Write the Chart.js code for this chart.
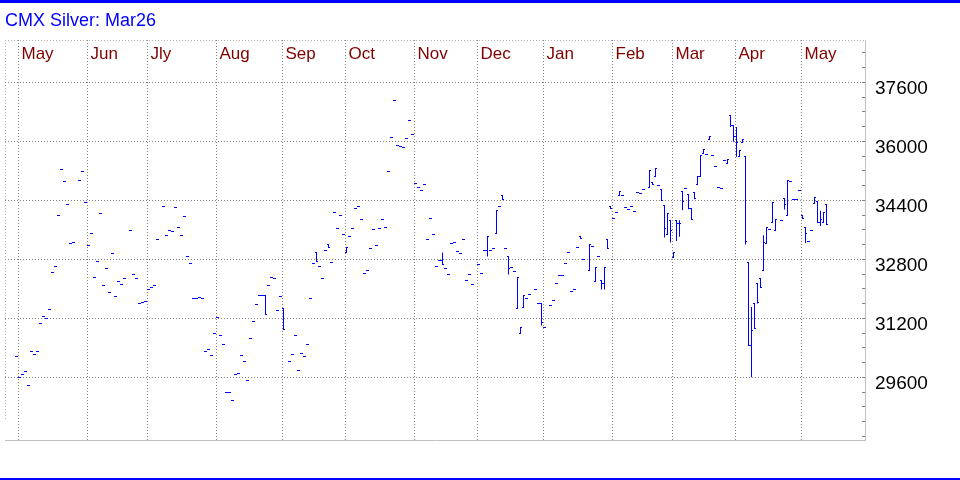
<!DOCTYPE html>
<html>
<head>
<meta charset="utf-8">
<script src="https://cdn.jsdelivr.net/npm/chart.js@4"></script>
<style>
html,body{margin:0;padding:0;background:#fff;overflow:hidden}
canvas{display:block}
</style>
</head>
<body>
<canvas id="c" width="960" height="480"></canvas>
<script>
// ---- data -------------------------------------------------------------
const chartTitle = 'CMX Silver: Mar26';
const monthLabels = ['May','Jun','Jly','Aug','Sep','Oct','Nov','Dec','Jan','Feb','Mar','Apr','May'];
// weekday index (0 = 1 May 2024) of the first weekday of each month
const monthStart = [0,23,43,66,88,109,132,153,175,198,218,239,261];
// labelled price levels on the right axis
const yTickLabels = [29600, 31200, 32800, 34400, 36000, 37600];
const yMinorStep = 400;    // small tick marks between the labels

// weekday index of each bar
const tradingDay = [
 -1,0,1,2,3,4,5,6,7,8,9,10,
 11,12,13,14,15,16,17,18,20,21,22,23,
 24,25,26,27,28,29,30,31,32,33,34,35,
 37,38,39,40,41,42,43,44,45,46,48,49,
 50,51,52,53,54,55,56,57,58,59,60,61,
 62,63,64,65,66,67,68,69,70,71,72,73,
 74,75,76,77,78,79,80,81,82,83,84,85,
 86,87,88,90,91,92,93,94,95,96,97,98,
 99,100,101,102,103,104,105,106,107,108,109,110,
 111,112,113,114,115,116,117,118,119,120,121,122,
 123,124,125,126,127,128,129,130,131,132,133,134,
 135,136,137,138,139,140,141,142,143,144,145,146,
 147,148,149,150,151,153,154,155,156,157,158,159,
 160,161,162,163,164,165,166,167,168,169,170,172,
 173,174,175,177,178,179,180,181,182,183,184,185,
 186,187,188,190,191,192,193,194,195,196,197,198,
 199,200,201,202,203,204,205,206,207,208,210,211,
 212,213,214,215,216,217,218,219,220,221,222,223,
 224,225,226,227,228,229,230,231,232,233,234,235,
 236,237,238,239,240,241,242,243,244,245,246,247,
 248,249,250,251,252,254,255,256,257,258,259,260,
 261,262,263,264,265,266,267,268,269
];

const openPrice = [
 30170,29600,29680,29765,29385,30305,30225,30305,31065,31255,31200,31445,
 32450,32610,33995,35240,34915,34290,33235,33260,34945,35185,34345,33180,
 33505,32310,32745,34050,32095,32555,31905,32965,31795,32205,32120,32285,
 33585,32395,32285,31605,31635,31660,31985,32040,32095,33345,34235,33450,
 33585,33560,34210,33675,33450,33965,32890,32690,31740,31740,31770,31740,
 30305,30360,30195,30795,31225,30740,30495,29195,29195,28975,29680,29710,
 30195,30035,29520,30660,31120,31580,31825,31825,31825,32095,32310,32285,
 31415,31795,31470,30035,30225,30740,29790,30250,30170,30495,31740,32690,
 32990,32610,32285,33045,33205,32720,34075,33640,33995,33480,32980,33425,
 33640,34185,34240,33885,32420,32500,33100,33615,33180,33640,33885,33670,
 35185,36110,37110,35890,35865,35840,36080,36570,36190,34860,34755,34670,
 34835,33345,33910,33480,32610,32775,32775,32555,32400,33235,33260,33015,
 32965,33345,32230,32400,32120,32665,32420,33035,33035,33045,33100,33495,
 34240,34535,33100,32890,32585,32485,31460,30795,31500,31735,31850,31985,
 31605,31605,30955,31550,31690,32150,32365,32365,32690,32990,31930,31985,
 33135,33425,32800,32495,33160,32195,32890,32240,32150,33345,34245,33910,
 34075,34535,34535,34210,34155,34240,34100,34615,34590,34700,34745,34895,
 35055,34820,34705,34265,33480,33865,32845,33865,33775,34635,34725,34565,
 34185,34615,34835,35040,35675,35655,36055,35610,35330,34750,34725,35480,
 35405,36710,36440,36145,35585,35975,35585,32725,30465,31610,32160,32285,
 32510,33235,33600,33795,33575,33870,34445,33980,34920,34435,34435,34680,
 33990,33665,33290,33585,34320,34380,33795,33795,34300
];

const highPrice = [
 30170,29600,29680,29765,29385,30305,30225,30305,31065,31255,31200,31445,
 32450,32610,33995,35240,34915,34290,33235,33260,34945,35185,34345,33180,
 33505,32310,32745,34050,32095,32555,31905,32965,31795,32205,32120,32285,
 33585,32395,32285,31605,31635,31660,31985,32040,32095,33345,34235,33450,
 33585,33560,34210,33675,33450,33965,32890,32690,31740,31740,31770,31740,
 30305,30360,30195,30795,31225,30740,30495,29195,29195,28975,29680,29710,
 30195,30035,29520,30660,31120,31580,31825,31825,31825,32095,32310,32285,
 31415,31795,31470,30035,30225,30740,29790,30250,30170,30495,31740,32690,
 32990,32610,32285,33045,33205,32720,34075,33640,33995,33480,33125,33425,
 33640,34185,34240,33885,32420,32500,33100,33615,33180,33640,33885,33670,
 35185,36110,37110,35890,35865,35840,36080,36570,36190,34860,34755,34670,
 34835,33345,33910,33480,32610,32775,32990,32555,32400,33235,33260,33015,
 32965,33345,32230,32400,32120,32665,32420,33035,33435,33045,33100,34140,
 34240,34535,33100,32890,32585,32485,32310,30955,31835,31735,31850,31985,
 31605,31605,30955,31550,31690,32150,32365,32365,32690,32990,31930,31985,
 33135,33425,32800,33205,33160,32585,32890,32240,32585,33345,34245,33910,
 34075,34635,34535,34210,34155,34240,34100,34615,34590,34700,35220,34895,
 35275,34820,34705,34265,34045,33865,32980,33865,33865,34635,34725,34565,
 34185,34615,35040,35620,35780,35655,36145,35610,35330,34750,34725,35480,
 35510,36710,36440,36395,35765,36065,35585,32725,31515,31610,32160,32285,
 33460,33665,33600,34345,33885,33870,34445,34940,34920,34435,34435,34680,
 33990,33665,33290,33585,34480,34380,34120,34065,34300
];

const lowPrice = [
 30170,29600,29680,29765,29385,30305,30225,30305,31065,31255,31200,31445,
 32450,32610,33995,35240,34915,34290,33235,33260,34945,35185,34345,33180,
 33505,32310,32745,34050,32095,32555,31905,32965,31795,32205,32120,32285,
 33585,32395,32285,31605,31635,31660,31985,32040,32095,33345,34235,33450,
 33585,33560,34210,33675,33450,33965,32890,32690,31740,31740,31770,31740,
 30305,30360,30195,30795,31225,30740,30495,29195,29195,28975,29680,29710,
 30195,30035,29520,30660,31120,31580,31825,31825,31310,32095,32310,32285,
 31415,31795,30900,30035,30225,30740,29790,30250,30170,30495,31740,32690,
 32745,32610,32285,33045,33125,32720,34075,33640,33995,33480,32980,33425,
 33640,34185,34240,33885,32420,32500,33100,33615,33180,33640,33885,33670,
 35185,36110,37110,35890,35865,35840,36080,36570,36190,34860,34755,34670,
 34835,33345,33910,33480,32610,32775,32665,32555,32400,33235,33260,33015,
 32965,33345,32230,32400,32120,32665,32420,33035,32880,33045,33100,33495,
 34240,34430,33100,32395,32585,32485,31460,30795,31500,31735,31850,31985,
 31605,31010,30955,31550,31690,32150,32365,32365,32690,32990,31930,31985,
 33135,33370,32800,32495,33160,32195,32890,31985,31985,33100,34185,33910,
 34075,34535,34535,34210,34155,34240,34100,34615,34590,34700,34745,34835,
 35055,34820,34400,33395,33480,33260,32845,33305,33415,34135,34725,34165,
 33885,34435,34835,35040,35675,35655,36055,35610,35330,34750,34725,35480,
 35405,36395,35990,35585,35585,35975,33205,30465,29605,30930,31605,32040,
 32510,33235,33600,33795,33575,33870,34155,33980,34920,34435,34435,34680,
 33920,33250,33290,33585,34320,33795,33710,33795,33750
];

const closePrice = [
 30170,29600,29680,29765,29385,30305,30225,30305,31065,31255,31200,31445,
 32450,32610,33995,35240,34915,34290,33235,33260,34945,35185,34345,33180,
 33505,32310,32745,34050,32095,32555,31905,32965,31795,32205,32120,32285,
 33585,32395,32285,31605,31635,31660,31985,32040,32095,33345,34235,33450,
 33585,33560,34210,33675,33450,33965,32890,32690,31740,31740,31770,31740,
 30305,30360,30195,30795,31225,30740,30495,29195,29195,28975,29680,29710,
 30195,30035,29520,30660,31120,31580,31825,31825,31310,32095,32310,32285,
 31415,31795,30900,30035,30225,30740,29790,30250,30170,30495,31740,32690,
 32745,32610,32285,33045,33125,32720,34075,33640,33995,33480,33125,33425,
 33640,34185,34240,33885,32420,32500,33100,33615,33180,33640,33885,33670,
 35185,36110,37110,35890,35865,35840,36080,36570,36190,34860,34755,34670,
 34835,33345,33910,33480,32610,32775,32665,32555,32400,33235,33260,33015,
 32965,33345,32230,32400,32120,32665,32420,33035,33435,33045,33100,34140,
 34240,34430,33100,32555,32585,32485,32310,30955,31835,31735,31850,31985,
 31605,31100,30955,31550,31690,32150,32365,32365,32690,32990,31930,31985,
 33135,33370,32800,33205,33160,32585,32890,32150,32585,33100,34185,33910,
 34075,34635,34535,34210,34155,34240,34100,34615,34590,34700,35220,34835,
 35275,34820,34400,33630,34045,33585,32980,33775,33775,34370,34725,34185,
 33885,34455,35040,35620,35780,35655,36145,35610,35330,34750,34725,35480,
 35510,36440,36145,35970,35765,36065,33275,30465,30880,30930,31630,32040,
 33250,33665,33600,34345,33885,33870,34300,34940,34920,34435,34435,34680,
 33920,33500,33290,33585,34480,33795,33895,34065,33750
];

// ---- styling ----------------------------------------------------------
const BLUE = '#0000ff';
const FONT = "'Liberation Sans', Arial, Helvetica, sans-serif";
const Y_MIN = 27905, Y_MAX = 38752.5;

const decor = {
  id: 'decor',
  beforeDraw(chart) {
    const {ctx, chartArea: a, width, height} = chart;
    ctx.save();
    ctx.fillStyle = '#ffffff';
    ctx.fillRect(0, 0, width, height);
    ctx.fillStyle = BLUE;
    ctx.fillRect(0, 0, width, 3);
    ctx.fillRect(0, height - 2, width, 2);
    ctx.lineWidth = 1;
    ctx.strokeStyle = '#b4b4b4';
    ctx.setLineDash([1, 2]);
    ctx.beginPath(); ctx.moveTo(a.left, a.top + 0.5); ctx.lineTo(a.right, a.top + 0.5); ctx.stroke();
    ctx.beginPath(); ctx.moveTo(a.left + 0.5, a.top); ctx.lineTo(a.left + 0.5, a.bottom - 19); ctx.stroke();
    ctx.setLineDash([]);
    ctx.strokeStyle = '#c0c0c0';
    ctx.beginPath(); ctx.moveTo(a.left, a.bottom + 0.5); ctx.lineTo(a.right + 1, a.bottom + 0.5); ctx.stroke();
    ctx.restore();
  }
};

// open (left) and close (right) ticks of every bar, placed with the chart's scales
const ohlcTicks = {
  id: 'ohlcTicks',
  afterDatasetsDraw(chart) {
    const xs = chart.scales.x, ys = chart.scales.y, ctx = chart.ctx;
    const row = v => Math.floor(ys.getPixelForValue(v));
    ctx.save();
    ctx.fillStyle = BLUE;
    tradingDay.forEach((d, i) => {
      const col = Math.floor(xs.getPixelForValue(d));
      ctx.fillRect(col - 1, row(openPrice[i]), 2, 1);
      ctx.fillRect(col, row(closePrice[i]), 2, 1);
    });
    ctx.restore();
  }
};

const isLabelled = v => yTickLabels.includes(v);

new Chart(document.getElementById('c'), {
  type: 'bar',
  data: {
    datasets: [{
      label: chartTitle,
      data: tradingDay.map((d, i) => ({x: d, y: [lowPrice[i], highPrice[i]]})),
      backgroundColor: BLUE,
      borderWidth: 0,
      barThickness: 1,
      inflateAmount: 0
    }]
  },
  plugins: [decor, ohlcTicks],
  options: {
    responsive: false,
    animation: false,
    devicePixelRatio: 1,
    events: [],
    layout: {padding: {left: 5, right: 0, top: 0, bottom: 40}},
    plugins: {
      legend: {display: false},
      tooltip: {enabled: false},
      title: {
        display: true,
        text: chartTitle,
        align: 'start',
        color: BLUE,
        font: {family: FONT, size: 18, weight: 'normal', lineHeight: 1.2},
        padding: {top: 10, bottom: 0.4}
      }
    },
    scales: {
      x: {
        type: 'linear',
        position: 'top',
        min: -29 / 6,
        max: 1691 / 6,
        offset: false,
        afterBuildTicks: s => { s.ticks = monthStart.map(v => ({value: v - 1 / 3})); },
        ticks: {
          autoSkip: false,
          maxRotation: 0,
          mirror: true,
          align: 'start',
          padding: 4,
          labelOffset: 3,
          color: '#800000',
          font: {family: FONT, size: 17},
          callback: (v, i) => monthLabels[i]
        },
        grid: {color: '#808080', drawTicks: false, offset: false},
        border: {display: false, dash: [1, 2]}
      },
      y: {
        type: 'linear',
        position: 'right',
        min: Y_MIN,
        max: Y_MAX,
        afterFit: s => { s.width = 95; },
        afterBuildTicks: s => {
          const t = [];
          let v = yTickLabels[0];
          while (v - yMinorStep >= Y_MIN) v -= yMinorStep;
          for (; v <= Y_MAX; v += yMinorStep) t.push({value: v});
          s.ticks = t;
        },
        ticks: {
          autoSkip: false,
          padding: 13,
          labelOffset: 6.5,
          color: '#000000',
          font: {family: FONT, size: 19},
          callback: v => (isLabelled(v) ? String(v) : '')
        },
        grid: {
          color: c => (c.tick && isLabelled(c.tick.value)) ? '#808080' : 'rgba(0,0,0,0)',
          tickColor: '#808080',
          tickLength: -3,
          tickBorderDash: []
        },
        border: {color: '#c0c0c0', dash: [1, 2]}
      }
    }
  }
});
</script>
</body>
</html>
